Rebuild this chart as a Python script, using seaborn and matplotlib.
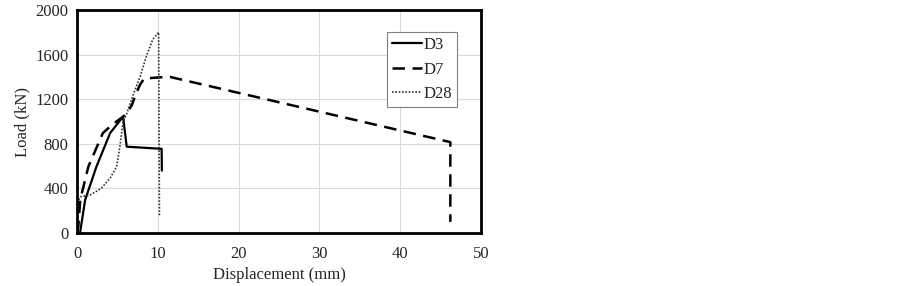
import numpy as np
import pandas as pd
import matplotlib
matplotlib.use("Agg")
import matplotlib.pyplot as plt
import seaborn as sns

sns.set_style("white")
plt.rcParams["font.family"] = ["Liberation Serif", "DejaVu Serif"]

# values
d3_x = [0.37, 1.0, 2.4, 4.1, 5.7, 6.15, 10.47, 10.5]
d3_y = [0, 296, 595, 897, 1043, 774, 755, 560]

d7_x = [0.0, 0.16, 0.4, 1.4, 3.2, 4.5, 5.7, 6.2, 6.8, 7.3, 7.8, 8.3, 10.0, 11.5, 46.2, 46.2]
d7_y = [0, 56, 300, 595, 897, 980, 1043, 1080, 1150, 1250, 1330, 1385, 1395, 1400, 815, 100]

d28_x = [0.0, 0.05, 0.4, 1.6, 3.0, 4.1, 4.9, 5.3, 5.7, 6.1, 7.0, 7.8, 8.6, 9.4, 10.1, 10.2]
d28_y = [150, 270, 325, 340, 400, 493, 595, 774, 1000, 1060, 1250, 1400, 1590, 1740, 1800, 150]

series = [("D3", d3_x, d3_y, "-", 1.6, "black"),
          ("D7", d7_x, d7_y, (0, (5, 3)), 1.8, "black"),
          ("D28", d28_x, d28_y, (0, (1, 1)), 1.2, "#333333")]

fig = plt.figure(figsize=(9.02, 2.86), dpi=100)
ax = fig.add_axes([0.0854, 0.1853, 0.4479, 0.7797])

for name, xs, ys, ls, lw, col in series:
    df = pd.DataFrame({"x": xs, "y": ys})
    sns.lineplot(data=df, x="x", y="y", ax=ax, sort=False, estimator=None,
                 color=col, linestyle=ls, linewidth=lw, label=name)

ax.set_xlim(0, 50)
ax.set_ylim(0, 2000)
ax.set_xticks([0, 10, 20, 30, 40, 50])
ax.set_yticks([0, 400, 800, 1200, 1600, 2000])
ax.grid(True, color="#d9d9d9", linewidth=0.8)
ax.set_axisbelow(True)
for s in ax.spines.values():
    s.set_linewidth(2)
    s.set_color("black")
ax.tick_params(length=0, labelsize=12)
ax.tick_params(axis="x", pad=9)
ax.tick_params(axis="y", pad=6)
ax.set_xlabel("Displacement (mm)", fontsize=12, labelpad=4)
ax.set_ylabel("Load (kN)", fontsize=12, labelpad=4)

leg = ax.legend(loc="upper right", bbox_to_anchor=(0.94, 0.9), fontsize=12,
                fancybox=False, framealpha=1, edgecolor="#808080",
                handlelength=1.8, handletextpad=0.05, labelspacing=0.5,
                borderpad=0.3, borderaxespad=0)
leg.get_frame().set_linewidth(0.8)

fig.savefig("out.png", dpi=100)
